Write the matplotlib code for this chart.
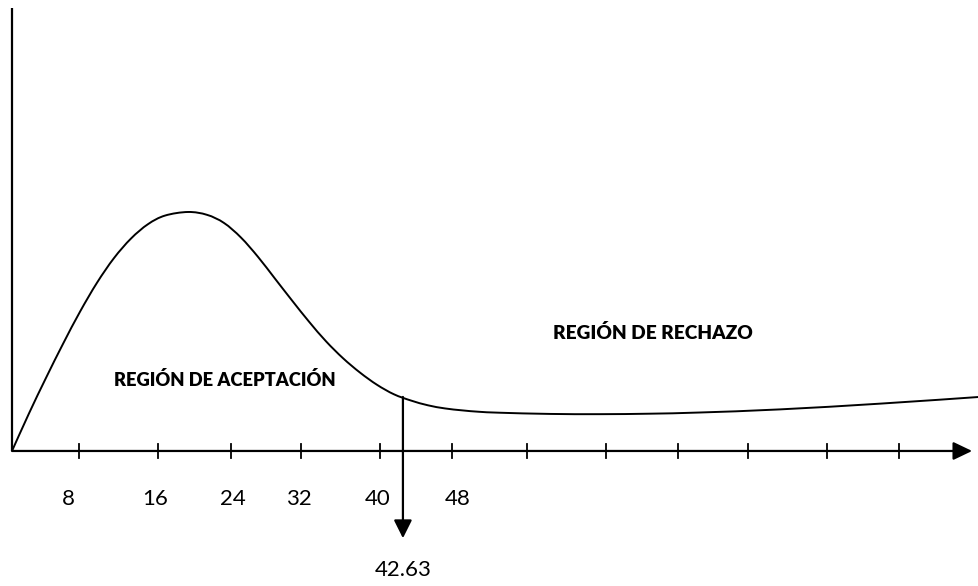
import matplotlib
matplotlib.use("Agg")
import matplotlib.pyplot as plt
from matplotlib.path import Path
from matplotlib.patches import PathPatch

# Curve (x = statistic, y = relative density, peak = 1)
curve_x = [0, 1.85, 3.71, 5.56, 7.42, 9.27, 11.12, 12.98, 14.83, 16.69, 19.2,
           21.27, 23.12, 24.97, 26.83, 28.68, 30.53, 32.39, 34.24, 36.10, 37.95,
           39.80, 41.66, 43.51, 45.37, 47.22, 49.07, 50.93, 53.22, 58.67, 64.12,
           69.58, 75.03, 83.75, 94.66, 105.45]
curve_y = [0, 0.157, 0.306, 0.448, 0.583, 0.704, 0.807, 0.889, 0.949, 0.985, 1.0,
           0.988, 0.954, 0.893, 0.812, 0.721, 0.630, 0.541, 0.459, 0.388, 0.328,
           0.277, 0.237, 0.211, 0.191, 0.178, 0.170, 0.164, 0.160, 0.155, 0.154,
           0.156, 0.161, 0.174, 0.198, 0.226]

# hand-drawn tick marks and their labels
tick_values = [7.31, 15.92, 23.88, 31.52, 40.13, 47.98, 56.16, 64.78, 72.63, 80.26, 88.88, 96.73]
label_values = [6.2, 15.6, 24.1, 31.3, 39.9, 48.6]
tick_labels = ["8", "16", "24", "32", "40", "48"]

critical = 42.63

fig = plt.figure(figsize=(9.79, 5.86), dpi=100)
ax = fig.add_axes([0, 0, 1, 1])
ax.set_xlim(-1.309, 105.45)
ax.set_ylim(-0.565, 1.887)
ax.axis("off")

# axes drawn by hand
ax.plot([0, 0], [0, 1.854], color="black", lw=1.6, solid_capstyle="butt")
ax.annotate("", xy=(104.7, 0), xytext=(0, 0),
            arrowprops=dict(arrowstyle="-|>,head_length=1.15,head_width=0.55",
                            mutation_scale=10, color="black", lw=1.6,
                            shrinkA=0, shrinkB=0))
for t in tick_values:
    ax.plot([t, t], [-0.03, 0.03], color="black", lw=1.3)

# smooth curve through the read points (Catmull-Rom as cubic Bezier segments)
pts = list(zip(curve_x, curve_y))
verts = [pts[0]]
codes = [Path.MOVETO]
for i in range(len(pts) - 1):
    p0 = pts[i - 1] if i > 0 else pts[i]
    p1, p2 = pts[i], pts[i + 1]
    p3 = pts[i + 2] if i + 2 < len(pts) else pts[i + 1]
    c1 = (p1[0] + (p2[0] - p0[0]) / 6, p1[1] + (p2[1] - p0[1]) / 6)
    c2 = (p2[0] - (p3[0] - p1[0]) / 6, p2[1] - (p3[1] - p1[1]) / 6)
    verts += [c1, c2, p2]
    codes += [Path.CURVE4] * 3
ax.add_patch(PathPatch(Path(verts, codes), fill=False, edgecolor="black", lw=1.4))

for v, s in zip(label_values, tick_labels):
    ax.text(v, -0.2, s, ha="center", va="center", fontsize=16, family="Lato")

# critical value arrow
ax.annotate("", xy=(critical, -0.365), xytext=(critical, 0.226),
            arrowprops=dict(arrowstyle="-|>,head_length=1.1,head_width=0.55",
                            mutation_scale=10, color="black", lw=1.6,
                            shrinkA=0, shrinkB=0))
ax.text(critical, -0.5, "42.63", ha="center", va="center", fontsize=16, family="Lato")

ax.text(23.2, 0.297, "REGIÓN DE ACEPTACIÓN", ha="center", va="center",
        fontsize=13.2, fontweight="heavy", family="Lato")
ax.text(69.9, 0.494, "REGIÓN DE RECHAZO", ha="center", va="center",
        fontsize=13.8, fontweight="heavy", family="Lato")

plt.savefig("out.png", dpi=100)
